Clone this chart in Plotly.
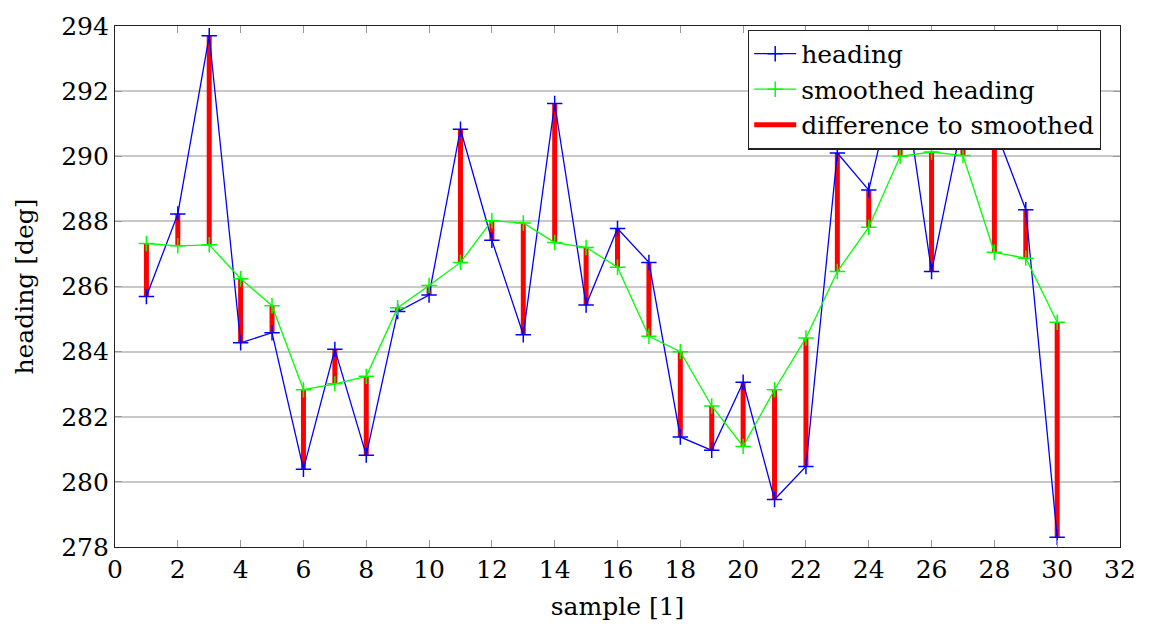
import plotly.graph_objects as go

# sample index and the two heading series (degrees)
samples = list(range(1, 31))
heading = [285.69, 288.23, 293.70, 284.27, 284.58, 280.39, 284.07, 280.82, 285.23, 285.74,
           290.83, 287.42, 284.52, 291.62, 285.43, 287.78, 286.74, 281.38, 280.97, 283.06,
           279.46, 280.47, 290.10, 288.96, 293.05, 286.46, 291.18, 290.90, 288.36, 278.30]
smoothed = [287.32, 287.25, 287.28, 286.24, 285.41, 282.83, 283.01, 283.24, 285.35, 286.03,
            286.74, 288.02, 287.95, 287.35, 287.20, 286.59, 284.47, 284.00, 282.33, 281.09,
            282.83, 284.42, 286.46, 287.82, 290.00, 290.13, 290.02, 287.05, 286.87, 284.90]

x_ticks = list(range(0, 33, 2))
y_ticks = list(range(278, 295, 2))

FONT = "'DejaVu Serif', serif"

# vertical segments from smoothed value to raw heading, separated by gaps
diff_x, diff_y = [], []
for s, h, m in zip(samples, heading, smoothed):
    diff_x += [s, s, None]
    diff_y += [m, h, None]

fig = go.Figure()

fig.add_trace(go.Scatter(
    x=diff_x, y=diff_y, mode="lines", name="difference to smoothed",
    line=dict(color="#ff0000", width=5), legendrank=3,
))
fig.add_trace(go.Scatter(
    x=samples, y=heading, mode="lines+markers", name="heading",
    line=dict(color="#0000ff", width=1.3),
    marker=dict(symbol="cross-thin", size=11, line=dict(color="#0000ff", width=1.5)),
    legendrank=1,
))
fig.add_trace(go.Scatter(
    x=samples, y=smoothed, mode="lines+markers", name="smoothed heading",
    line=dict(color="#00ff00", width=1.3),
    marker=dict(symbol="cross-thin", size=11, line=dict(color="#00ff00", width=1.5)),
    legendrank=2,
))

fig.update_layout(
    width=1149, height=635,
    margin=dict(l=115, r=29, t=18, b=88),
    paper_bgcolor="white", plot_bgcolor="white",
    font=dict(family=FONT, size=25, color="black"),
    legend=dict(
        x=0.981, y=0.993, xanchor="right", yanchor="top",
        bgcolor="white", bordercolor="#222222", borderwidth=1.3,
        font=dict(family=FONT, size=25, color="black"),
        tracegroupgap=0, itemwidth=42,
    ),
    xaxis=dict(
        range=[0, 32], tickvals=x_ticks, ticktext=[str(v) for v in x_ticks],
        showgrid=False, zeroline=False,
        showline=True, linecolor="#222222", linewidth=1.3, mirror="allticks",
        ticks="inside", ticklen=7, tickcolor="#999999", tickwidth=1,
        title=dict(text="sample [1]", font=dict(family=FONT, size=25), standoff=14),
        tickfont=dict(family=FONT, size=25),
    ),
    yaxis=dict(
        range=[278, 294], tickvals=y_ticks, ticktext=[str(v) for v in y_ticks],
        showgrid=True, gridcolor="#c8c8c8", gridwidth=1.5, zeroline=False,
        showline=True, linecolor="#222222", linewidth=1.3, mirror="allticks",
        ticks="inside", ticklen=7, tickcolor="#999999", tickwidth=1,
        title=dict(text="heading [deg]", font=dict(family=FONT, size=25), standoff=20),
        tickfont=dict(family=FONT, size=25),
    ),
)

fig.write_html("out.html")
